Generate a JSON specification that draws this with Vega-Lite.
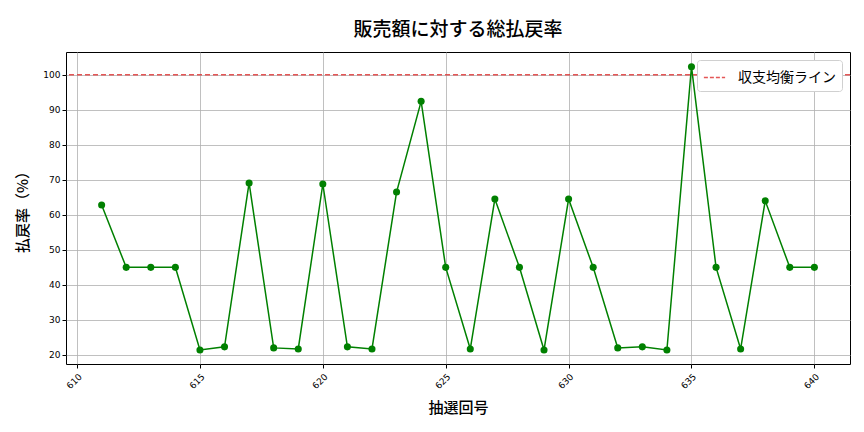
{
  "$schema": "https://vega.github.io/schema/vega-lite/v6.json",
  "width": 784,
  "height": 312,
  "autosize": "none",
  "padding": {"left": 66, "top": 52, "right": 14, "bottom": 68},
  "background": "white",
  "title": {"text": "販売額に対する総払戻率", "font": "Noto Sans CJK JP", "fontSize": 19, "fontWeight": 500, "color": "#000000", "offset": 12, "anchor": "middle"},
  "config": {
    "font": "Noto Sans CJK JP",
    "view": {"stroke": "#000000", "strokeWidth": 1},
    "axis": {"gridColor": "#b0b0b0", "gridWidth": 0.8, "domain": false, "tickColor": "#000000", "tickSize": 4, "labelColor": "#000000", "labelFontSize": 9, "labelOverlap": false, "titleColor": "#000000", "titleFontSize": 15, "titleFontWeight": 500, "labelFont": "DejaVu Sans"}
  },
  "data": {"values": [
    {"draw": 611, "rate": 62.8},
    {"draw": 612, "rate": 45.0},
    {"draw": 613, "rate": 45.0},
    {"draw": 614, "rate": 45.0},
    {"draw": 615, "rate": 21.4},
    {"draw": 616, "rate": 22.3},
    {"draw": 617, "rate": 69.1},
    {"draw": 618, "rate": 22.0},
    {"draw": 619, "rate": 21.7},
    {"draw": 620, "rate": 68.8},
    {"draw": 621, "rate": 22.3},
    {"draw": 622, "rate": 21.7},
    {"draw": 623, "rate": 66.5},
    {"draw": 624, "rate": 92.4},
    {"draw": 625, "rate": 45.0},
    {"draw": 626, "rate": 21.7},
    {"draw": 627, "rate": 64.5},
    {"draw": 628, "rate": 45.0},
    {"draw": 629, "rate": 21.4},
    {"draw": 630, "rate": 64.5},
    {"draw": 631, "rate": 45.0},
    {"draw": 632, "rate": 22.0},
    {"draw": 633, "rate": 22.3},
    {"draw": 634, "rate": 21.4},
    {"draw": 635, "rate": 102.3},
    {"draw": 636, "rate": 45.0},
    {"draw": 637, "rate": 21.7},
    {"draw": 638, "rate": 64.0},
    {"draw": 639, "rate": 45.0},
    {"draw": 640, "rate": 45.0}
  ]},
  "layer": [
    {
      "mark": {"type": "line", "color": "#008000", "strokeWidth": 1.5, "point": {"filled": true, "size": 50, "color": "#008000", "opacity": 1}},
      "encoding": {
        "x": {"field": "draw", "type": "quantitative", "scale": {"domain": [609.55, 641.45], "nice": false, "zero": false}, "axis": {"values": [610, 615, 620, 625, 630, 635, 640], "tickCount": 10, "labelAngle": -45, "title": "抽選回号", "titlePadding": 10, "labelPadding": 4}},
        "y": {"field": "rate", "type": "quantitative", "scale": {"domain": [17.4, 106.5], "nice": false, "zero": false}, "axis": {"values": [20, 30, 40, 50, 60, 70, 80, 90, 100], "tickCount": 12, "title": "払戻率（%）", "titlePadding": 12}}
      }
    },
    {
      "data": {"values": [{"y": 100, "label": "収支均衡ライン"}]},
      "mark": {"type": "rule", "strokeDash": [5, 3], "strokeWidth": 1.5, "opacity": 0.85},
      "encoding": {
        "y": {"field": "y", "type": "quantitative"},
        "color": {"field": "label", "type": "nominal", "scale": {"range": ["#e03a3a"]}, "legend": {"title": null, "orient": "top-right", "offset": 8, "symbolType": "stroke", "symbolStrokeWidth": 1.5, "symbolDash": [4, 2], "symbolSize": 450, "labelFontSize": 14, "labelFont": "Noto Sans CJK JP", "labelColor": "#000000", "fillColor": "white", "strokeColor": "#d0d0d0", "padding": 6, "cornerRadius": 3, "labelOffset": 12}}
      }
    }
  ]
}
